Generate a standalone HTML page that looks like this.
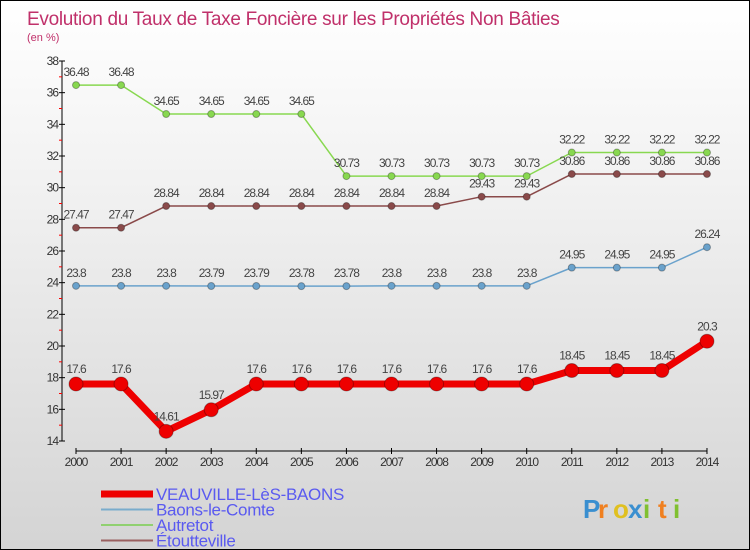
<!DOCTYPE html>
<html><head><meta charset="utf-8"><style>
body{margin:0}
#c{width:748px;height:548px;border:1px solid #000;background:linear-gradient(#fff,#f3f3f3 30%,#d4d4d4);position:relative;overflow:hidden;font-family:"Liberation Sans",sans-serif}
</style></head><body>
<div id="c">
<svg id="s" width="748" height="548"></svg>
</div>
<script>
const years=["2000","2001","2002","2003","2004","2005","2006","2007","2008","2009","2010","2011","2012","2013","2014"];
const veau=[17.6,17.6,14.61,15.97,17.6,17.6,17.6,17.6,17.6,17.6,17.6,18.45,18.45,18.45,20.3];
const baons=[23.8,23.8,23.8,23.79,23.79,23.78,23.78,23.8,23.8,23.8,23.8,24.95,24.95,24.95,26.24];
const autretot=[36.48,36.48,34.65,34.65,34.65,34.65,30.73,30.73,30.73,30.73,30.73,32.22,32.22,32.22,32.22];
const etout=[27.47,27.47,28.84,28.84,28.84,28.84,28.84,28.84,28.84,29.43,29.43,30.86,30.86,30.86,30.86];
const yTicks=[14,16,18,20,22,24,26,28,30,32,34,36,38];
const NS="http://www.w3.org/2000/svg",s=document.getElementById('s');
function X(i){return 75+i*45.07}
function Y(v){return 440-(v-14)*(380/24)}
function el(t,a,p){const e=document.createElementNS(NS,t);for(const k in a)e.setAttribute(k,a[k]);(p||s).appendChild(e);return e}
function tx(x,y,str,a,p){const e=el('text',Object.assign({x:x,y:y},a),p);e.textContent=str;return e}
let t=tx(26,24,"Evolution du Taux de Taxe Foncière sur les Propriétés Non Bâties",{fill:"#c0306a","font-size":"19","letter-spacing":"-0.3"});

t=tx(26,40,"(en %)",{fill:"#c0306a","font-size":"11"});

let ax=el('g',{});
el('line',{x1:61,y1:60,x2:61,y2:440,stroke:"#000"},ax);
yTicks.forEach((v,i)=>{el('line',{x1:58,x2:64,y1:Y(v),y2:Y(v),stroke:"#000"},ax);
 if(i<yTicks.length-1)el('line',{x1:58,x2:61,y1:Y(v+1),y2:Y(v+1),stroke:"#f00"},ax);
 let l=tx(57,Y(v)+4,String(v),{"text-anchor":"end","font-size":"12",fill:"#333","letter-spacing":"-1"},ax);});
let xa=el('g',{});
el('line',{x1:X(0),x2:X(14),y1:450,y2:450,stroke:"#000"},xa);
years.forEach((y,i)=>{el('line',{x1:X(i),x2:X(i),y1:447,y2:453,stroke:"#000"},xa);
 let l=tx(X(i),465,y,{"text-anchor":"middle","font-size":"12",fill:"#333","letter-spacing":"-1"},xa);});
function series(name,data,color,w,r,lab){
 const g=el('g',{});
 el('polyline',{points:data.map((v,i)=>X(i)+","+Y(v)).join(" "),fill:"none",stroke:color,"stroke-width":w,"stroke-linejoin":"round"},g);
 data.forEach((v,i)=>{const c=el('circle',{cx:X(i),cy:Y(v),r:r,fill:color,stroke:"rgba(0,0,0,0.3)"},g);
  const l=tx(X(i),Y(v)-lab,String(v),{"text-anchor":"middle","font-size":"12",fill:"#444","letter-spacing":"-1"},g);});
}
series('series-autretot',autretot,"#88d850",1.5,3.5,9);
series('series-etoutteville',etout,"#8a4a4a",1.5,3.5,9);
series('series-baons-le-comte',baons,"#6aa2cc",1.5,3.5,9);
series('series-veauville',veau,"#ee0000",7,7,11);
const leg=[["VEAUVILLE-LèS-BAONS","#ee0000",7],["Baons-le-Comte","#7aaccc",2],["Autretot","#90d070",2],["Étoutteville","#9a6060",2]];
leg.forEach((d,i)=>{const g=el('g',{});
 const y=493+i*15.5;el('line',{x1:100,x2:152,y1:y,y2:y,stroke:d[1],"stroke-width":d[2]},g);
 tx(155,y+6,d[0],{"font-size":"17",fill:"#5a5af0","letter-spacing":"-0.3"},g);});
const p=el('g',{});
[["P","#3a8fd0"],["r","#f08020"],["o","#e0c020"],["x","#3a8fd0"],["i","#80c030"],["t","#f08020"],["i","#80c030"]].forEach((c,i)=>{
 tx(582+i*15,517,c[0],{"font-size":"26","font-weight":"bold",fill:c[1]},p);});
</script>
</body></html>
